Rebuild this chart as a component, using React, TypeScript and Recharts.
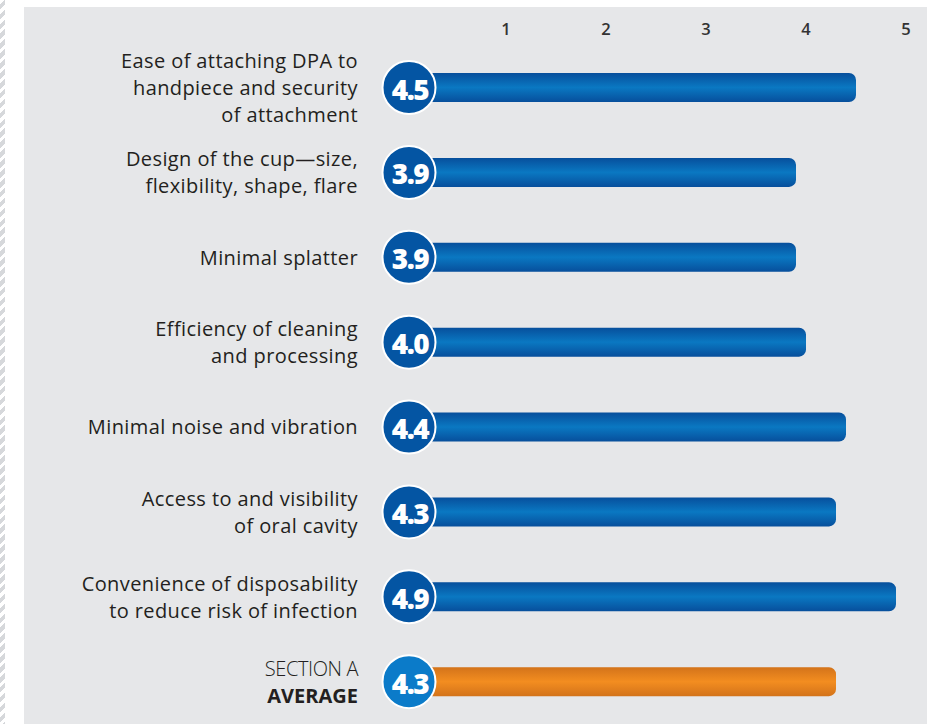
import React from "react";
import { BarChart, Bar, XAxis, YAxis, Cell, LabelList } from "recharts";

const categories = [
  "Ease of attaching DPA to\nhandpiece and security\nof attachment",
  "Design of the cup\u2014size,\nflexibility, shape, flare",
  "Minimal splatter",
  "Efficiency of cleaning\nand processing",
  "Minimal noise and vibration",
  "Access to and visibility\nof oral cavity",
  "Convenience of disposability\nto reduce risk of infection",
  "SECTION A\nAVERAGE",
];
const scores = [4.5, 3.9, 3.9, 4.0, 4.4, 4.3, 4.9, 4.3];
const xTicks = [1, 2, 3, 4, 5];
const averageIndex = 7;

const data = categories.map((name, i) => ({ name, score: scores[i] }));

const FONT = "'Open Sans', sans-serif";
const TEXT = "#231F20";

function CategoryTick({ y, payload }: any) {
  const lines = String(payload.value).split("\n");
  const isAvg = payload.index === averageIndex;
  const lh = 27;
  const start = -((lines.length - 1) * lh) / 2;
  return (
    <text
      x={334}
      y={y}
      textAnchor="end"
      fontFamily={FONT}
      fontSize={20}
      fill={TEXT}
    >
      {lines.map((l, i) => (
        <tspan
          key={i}
          x={334}
          dy={i === 0 ? start : lh}
          dominantBaseline="central"
          fontWeight={isAvg ? (i === 0 ? 300 : 700) : 500}
          letterSpacing={isAvg ? (i === 0 ? -0.4 : 0) : 0.4}
        >
          {l}
        </tspan>
      ))}
    </text>
  );
}

function ScoreTick({ x, payload }: any) {
  return (
    <text
      x={x}
      y={21}
      textAnchor="middle"
      dominantBaseline="central"
      fontFamily={FONT}
      fontSize={16.5}
      fontWeight={600}
      fill="#333"
    >
      {payload.value}
    </text>
  );
}

function Badge(props: any) {
  const { x, y, height, value, index } = props;
  const cx = x + 3;
  const cy = y + height / 2;
  const isAvg = index === averageIndex;
  return (
    <g>
      <circle
        cx={cx}
        cy={cy}
        r={26.5}
        fill={isAvg ? "#0B7BC9" : "#0455A3"}
        stroke="#ffffff"
        strokeWidth={2}
      />
      <text
        x={cx + 1}
        y={cy + 1}
        textAnchor="middle"
        dominantBaseline="central"
        fontFamily={FONT}
        fontSize={28}
        fontWeight={800}
        letterSpacing={-1.5}
        fill="#ffffff"
      >
        {Number(value).toFixed(1)}
      </text>
    </g>
  );
}

export default function App() {
  return (
    <div
      style={{
        position: "absolute",
        left: 0,
        top: 0,
        width: 941,
        height: 724,
        background: "#ffffff",
        overflow: "hidden",
      }}
    >
      <div
        style={{
          position: "absolute",
          left: 0,
          top: 0,
          width: 5,
          height: 724,
          background:
            "repeating-linear-gradient(135deg, #ffffff 0 3px, #d6d8db 3px 7px)",
        }}
      />
      <div
        style={{
          position: "absolute",
          left: 24,
          top: 7,
          width: 903,
          height: 717,
          background: "#E6E7E9",
        }}
      >
        <BarChart
          width={903}
          height={717}
          data={data}
          layout="vertical"
          margin={{ top: 2, right: 21, bottom: 0, left: 0 }}
          barCategoryGap={0}
        >
          <defs>
            <linearGradient id="blueBar" x1="0" y1="0" x2="0" y2="1">
              <stop offset="0" stopColor="#074F9C" />
              <stop offset="0.5" stopColor="#0A78C2" />
              <stop offset="1" stopColor="#074F9C" />
            </linearGradient>
            <linearGradient id="orangeBar" x1="0" y1="0" x2="0" y2="1">
              <stop offset="0" stopColor="#D3731A" />
              <stop offset="0.5" stopColor="#F38D20" />
              <stop offset="1" stopColor="#D3731A" />
            </linearGradient>
          </defs>
          <XAxis
            type="number"
            orientation="top"
            domain={[0, 5]}
            ticks={xTicks}
            height={36}
            axisLine={false}
            tickLine={false}
            tick={<ScoreTick />}
            interval={0}
          />
          <YAxis
            type="category"
            dataKey="name"
            width={382}
            axisLine={false}
            tickLine={false}
            tick={<CategoryTick />}
            interval={0}
          />
          <Bar
            dataKey="score"
            barSize={29}
            radius={[0, 7, 7, 0]}
            isAnimationActive={false}
          >
            {data.map((d, i) => (
              <Cell
                key={d.name}
                fill={i === averageIndex ? "url(#orangeBar)" : "url(#blueBar)"}
              />
            ))}
            <LabelList dataKey="score" content={<Badge />} />
          </Bar>
        </BarChart>
      </div>
    </div>
  );
}
